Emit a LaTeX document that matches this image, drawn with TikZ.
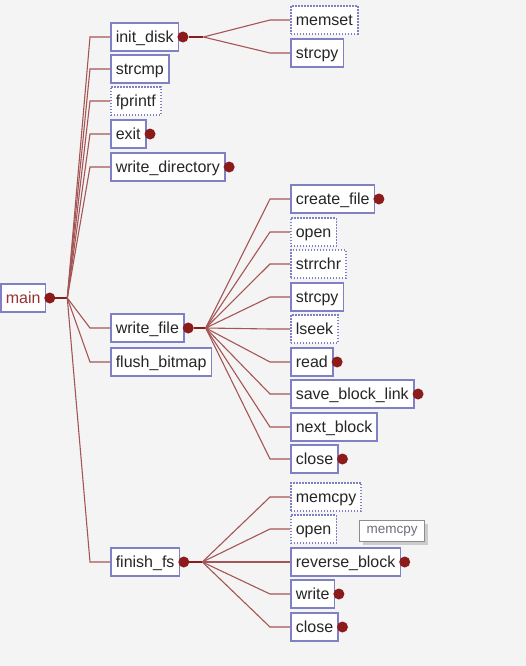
\documentclass[tikz,border=0pt]{standalone}
\usepackage{fontspec}
\setmainfont{Liberation Sans}
\usetikzlibrary{positioning,shadows}
\definecolor{boxline}{RGB}{128,128,196}
\definecolor{linkred}{RGB}{165,85,85}
\definecolor{dotred}{RGB}{140,28,28}
\definecolor{bggray}{RGB}{244,244,244}
\definecolor{tipgray}{RGB}{110,110,120}
\tikzset{
  fn/.style={draw=boxline, line width=1.6pt, fill=white, anchor=west, minimum height=28pt, inner xsep=5pt, inner ysep=0pt, text height=13pt, text depth=2.5pt, text=black!85, font=\fontsize{16}{19}\selectfont},
  extfn/.style={fn, dash pattern=on 1.5pt off 1.5pt},
  calldot/.style={circle, fill=dotred, inner sep=0pt, minimum size=11pt},
  link/.style={draw=linkred, line width=1.1pt},
  stem/.style={draw=dotred, line width=2.2pt}
}

\begin{document}
\begin{tikzpicture}[x=1pt, y=-1pt]
    \fill[bggray] (0,0) rectangle (526,666);

    % root
    \node[fn, text=dotred!90] (main) at (0,298) {main};

    % callees of main
    \node[fn] (initdisk) at (110,37) {init\_disk};
    \node[fn] (strcmp) at (110,69) {strcmp};
    \node[extfn] (fprintf) at (110,101) {fprintf};
    \node[fn] (exit) at (110,134) {exit};
    \node[fn] (writedir) at (110,167) {write\_directory};
    \node[fn] (writefile) at (110,328) {write\_file};
    \node[fn] (flushbitmap) at (110,362) {flush\_bitmap};
    \node[fn] (finishfs) at (110,562) {finish\_fs};

    % callees of init_disk
    \node[extfn] (memset) at (290,20) {memset};
    \node[fn] (strcpyA) at (290,53) {strcpy};

    % callees of write_file
    \node[fn] (createfile) at (290,199) {create\_file};
    \node[extfn] (openA) at (290,232) {open};
    \node[extfn] (strrchr) at (290,264) {strrchr};
    \node[fn] (strcpyB) at (290,297) {strcpy};
    \node[extfn] (lseek) at (290,329) {lseek};
    \node[fn] (read) at (290,362) {read};
    \node[fn] (saveblock) at (290,394) {save\_block\_link};
    \node[fn] (nextblock) at (290,427) {next\_block};
    \node[fn] (closeA) at (290,459) {close};

    % callees of finish_fs
    \node[extfn] (memcpy) at (290,497) {memcpy};
    \node[extfn] (openB) at (290,529) {open};
    \node[fn] (reverseblock) at (290,562) {reverse\_block};
    \node[fn] (write) at (290,594) {write};
    \node[fn] (closeB) at (290,627) {close};

    % expand dots
    \node[calldot] (main-dot) at ([xshift=3.5pt]main.east) {};
    \node[calldot] (initdisk-dot) at ([xshift=3.5pt]initdisk.east) {};
    \node[calldot] (exit-dot) at ([xshift=3.5pt]exit.east) {};
    \node[calldot] (writedir-dot) at ([xshift=3.5pt]writedir.east) {};
    \node[calldot] (writefile-dot) at ([xshift=3.5pt]writefile.east) {};
    \node[calldot] (finishfs-dot) at ([xshift=3.5pt]finishfs.east) {};
    \node[calldot] (createfile-dot) at ([xshift=3.5pt]createfile.east) {};
    \node[calldot] (read-dot) at ([xshift=3.5pt]read.east) {};
    \node[calldot] (saveblock-dot) at ([xshift=3.5pt]saveblock.east) {};
    \node[calldot] (closeA-dot) at ([xshift=3.5pt]closeA.east) {};
    \node[calldot] (reverseblock-dot) at ([xshift=3.5pt]reverseblock.east) {};
    \node[calldot] (write-dot) at ([xshift=3.5pt]write.east) {};
    \node[calldot] (closeB-dot) at ([xshift=3.5pt]closeB.east) {};

    % junctions
    \coordinate (jmain) at ([xshift=21pt]main.east);
    \coordinate (jinit) at ([xshift=24pt]initdisk.east);
    \coordinate (jwrite) at ([xshift=21pt]writefile.east);
    \coordinate (jfinish) at ([xshift=22pt]finishfs.east);

    \draw[stem] (main-dot.east) -- (jmain);
    \draw[stem] (initdisk-dot.east) -- (jinit);
    \draw[stem] (writefile-dot.east) -- (jwrite);
    \draw[stem] (finishfs-dot.east) -- (jfinish);

    % main
    \draw[link] (jmain) -- ([xshift=-20pt]initdisk.west) -- (initdisk.west);
    \draw[link] (jmain) -- ([xshift=-20pt]strcmp.west) -- (strcmp.west);
    \draw[link] (jmain) -- ([xshift=-20pt]fprintf.west) -- (fprintf.west);
    \draw[link] (jmain) -- ([xshift=-20pt]exit.west) -- (exit.west);
    \draw[link] (jmain) -- ([xshift=-20pt]writedir.west) -- (writedir.west);
    \draw[link] (jmain) -- ([xshift=-20pt]writefile.west) -- (writefile.west);
    \draw[link] (jmain) -- ([xshift=-20pt]flushbitmap.west) -- (flushbitmap.west);
    \draw[link] (jmain) -- ([xshift=-20pt]finishfs.west) -- (finishfs.west);

    % init_disk
    \draw[link] (jinit) -- ([xshift=-20pt]memset.west) -- (memset.west);
    \draw[link] (jinit) -- ([xshift=-20pt]strcpyA.west) -- (strcpyA.west);

    % write_file
    \draw[link] (jwrite) -- ([xshift=-20pt]createfile.west) -- (createfile.west);
    \draw[link] (jwrite) -- ([xshift=-20pt]openA.west) -- (openA.west);
    \draw[link] (jwrite) -- ([xshift=-20pt]strrchr.west) -- (strrchr.west);
    \draw[link] (jwrite) -- ([xshift=-20pt]strcpyB.west) -- (strcpyB.west);
    \draw[link] (jwrite) -- ([xshift=-20pt]lseek.west) -- (lseek.west);
    \draw[link] (jwrite) -- ([xshift=-20pt]read.west) -- (read.west);
    \draw[link] (jwrite) -- ([xshift=-20pt]saveblock.west) -- (saveblock.west);
    \draw[link] (jwrite) -- ([xshift=-20pt]nextblock.west) -- (nextblock.west);
    \draw[link] (jwrite) -- ([xshift=-20pt]closeA.west) -- (closeA.west);

    % finish_fs
    \draw[link] (jfinish) -- ([xshift=-20pt]memcpy.west) -- (memcpy.west);
    \draw[link] (jfinish) -- ([xshift=-20pt]openB.west) -- (openB.west);
    \draw[link] (jfinish) -- ([xshift=-20pt]reverseblock.west) -- (reverseblock.west);
    \draw[link] (jfinish) -- ([xshift=-20pt]write.west) -- (write.west);
    \draw[link] (jfinish) -- ([xshift=-20pt]closeB.west) -- (closeB.west);

    % tooltip
    \node[draw=black!45, line width=1pt, fill=white, anchor=west, minimum height=21pt, inner xsep=7pt, inner ysep=0pt, text=tipgray, font=\fontsize{13.5}{15}\selectfont, drop shadow={shadow xshift=3pt, shadow yshift=-3pt, fill=black!35}] (tip) at (359,531) {memcpy};
\end{tikzpicture}
\end{document}
